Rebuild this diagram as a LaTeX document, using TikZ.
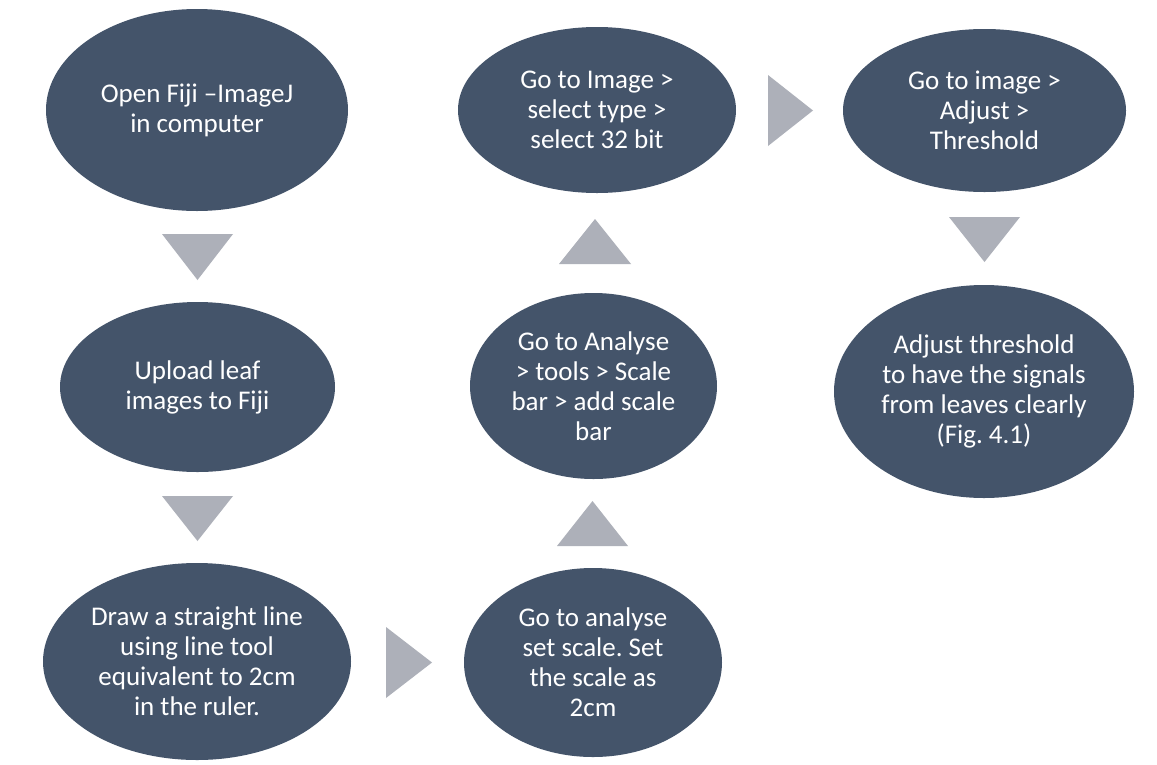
\documentclass[tikz,border=0pt]{standalone}
\usepackage{fontspec}
\setmainfont{Carlito}
\frenchspacing
\usetikzlibrary{shapes.geometric}
\definecolor{ovalfill}{HTML}{44546A}
\definecolor{trifill}{HTML}{ADB0B9}
\tikzset{
  oval/.style={ellipse, fill=ovalfill, draw=none, inner sep=0pt, text=white, align=center,
    font=\fontsize{27}{30}\selectfont},
  tri/.style={fill=trifill, draw=none}
}
\begin{document}
\begin{tikzpicture}[x=1pt,y=-1pt]
\useasboundingbox (0,0) rectangle (1157,764);
\fill[white] (0,0) rectangle (1157,764);
% ovals
\node[oval, minimum width=302pt, minimum height=202pt] (n1) at (197,110) {Open Fiji –ImageJ\\in computer};
\node[oval, minimum width=275pt, minimum height=170pt] (n2) at (197.5,387) {Upload leaf\\images to Fiji};
\node[oval, minimum width=308pt, minimum height=197pt] (n3) at (197,661.5) {Draw a straight line\\using line tool\\equivalent to 2cm\\in the ruler.};
\node[oval, minimum width=258pt, minimum height=189pt] (n4) at (593,662.5) {Go to analyse\\set scale. Set\\the scale as\\2cm};
\node[oval, minimum width=247pt, minimum height=186pt] (n5) at (593.5,386) {Go to Analyse\\> tools > Scale\\bar > add scale\\bar};
\node[oval, minimum width=278pt, minimum height=166pt] (n6) at (597,110) {Go to Image >\\select type >\\select 32 bit};
\node[oval, minimum width=283pt, minimum height=163pt] (n7) at (984.5,110.5) {Go to image >\\Adjust >\\Threshold};
\node[oval, minimum width=300pt, minimum height=213pt] (n8) at (984,391.5) {Adjust threshold\\to have the signals\\from leaves clearly\\(Fig. 4.1)};
% triangle arrows
\fill[tri] (162,234) -- (233,234) -- (197.5,280) -- cycle;
\fill[tri] (162,496) -- (233,496) -- (197.5,541) -- cycle;
\fill[tri] (386,627) -- (386,698) -- (432,662.5) -- cycle;
\fill[tri] (557,546) -- (628,546) -- (592.5,501) -- cycle;
\fill[tri] (559,264) -- (631,264) -- (595,219) -- cycle;
\fill[tri] (768,75) -- (768,146) -- (813,110.5) -- cycle;
\fill[tri] (949,217) -- (1020,217) -- (984.5,262) -- cycle;
\end{tikzpicture}
\end{document}
